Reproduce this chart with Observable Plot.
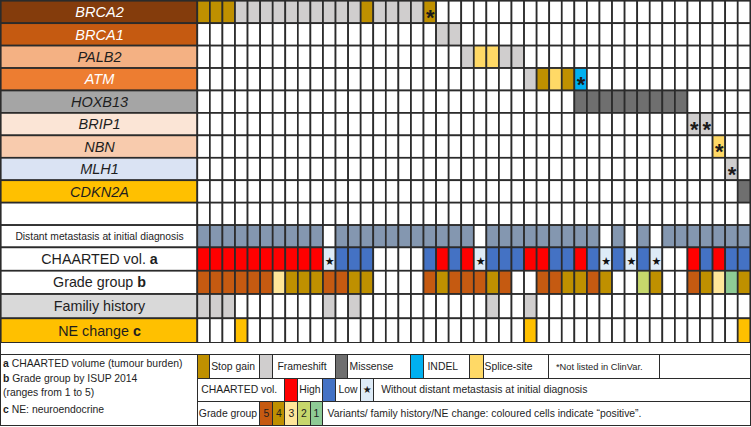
<!DOCTYPE html>
<html>
<head>
<meta charset="utf-8">
<script src="https://cdn.jsdelivr.net/npm/d3@7"></script>
<script src="https://cdn.jsdelivr.net/npm/@observablehq/plot@0.6"></script>
<style>
html, body { margin: 0; padding: 0; background: #fff; }
#wrap { position: relative; width: 751px; height: 427px; font-family: "Liberation Sans", Arial, sans-serif; color: #1e1e1e; overflow: hidden; }
#wrap svg { position: absolute; left: 0; top: 0; }
.box { position: absolute; box-sizing: border-box; border: 1.5px solid #2b2b2b; display: flex; align-items: center; font-size: 10.4px; white-space: nowrap; overflow: hidden; background: #fff; }
.line { position: absolute; left: 3px; font-size: 10.4px; line-height: 14px; white-space: nowrap; }
</style>
</head>
<body>
<div id="wrap"></div>
<script>
// ---------------- DATA ----------------
const N_PATIENTS = 44;
const PATIENTS = d3.range(1, N_PATIENTS + 1);

const GENES = ["BRCA2", "BRCA1", "PALB2", "ATM", "HOXB13", "BRIP1", "NBN", "MLH1", "CDKN2A"];
const CLINICAL = ["Distant metastasis at initial diagnosis", "CHAARTED vol. a", "Grade group b", "Familiy history", "NE change c"];

// Variant code per patient (groups of 10 separated by "|"):
// S stop gain, F frameshift, M missense, I INDEL, P splice-site; lower case = not listed in ClinVar; "." none
const BRCA2  = "SSSFFFFFFF|FFFSFFFFs.|..........|..........|....";
const BRCA1  = "..........|.........F|F.........|..........|....";
const PALB2  = "..........|..........|.FPPFF....|..........|....";
const ATM    = "..........|..........|......FSPS|i.........|....";
const HOXB13 = "..........|..........|..........|MMMMMMMMM.|....";
const BRIP1  = "..........|..........|..........|.........f|f...";
const NBN    = "..........|..........|..........|..........|.p..";
const MLH1   = "..........|..........|..........|..........|..f.";
const CDKN2A = "..........|..........|..........|..........|...M";

const DISTANT_MET = "1111111111|0111111111|1101111111|1101010111|1111";
const CHAARTED    = "HHHHHHHHHH|WLLL....LH|LHWLLLHHLL|HLWLWLW..H|LHLL"; // H high, L low, W without distant metastasis
const GRADE       = "5555553444|5544....54|55545..554|454..24..5|4314";
const FAMILY_HX   = "111.......|1.1.......|...1..1...|..........|....";
const NE_CHANGE   = "...1......|..........|......1...|..........|...1";

const VARIANT_TYPES = ["Stop gain", "Frameshift", "Missense", "INDEL", "Splice-site"];
const GRADE_LEVELS = ["5", "4", "3", "2", "1"];

// ---------------- STYLES ----------------
const LINE = "#2b2b2b";
const VARIANT_COLORS = { S: "#bf9000", F: "#d0cece", M: "#6f6f6f", I: "#00b0f0", P: "#ffd966" };
const CHAARTED_COLORS = { H: "#ff0000", L: "#4472c4", W: "#deebf7" };
const GRADE_COLORS = { "5": "#c55a11", "4": "#bf9000", "3": "#ffe699", "2": "#c6d76c", "1": "#8ecb95" };
const MET_COLOR = "#8497b0";
const FAMILY_COLOR = "#d0cece";
const NE_COLOR = "#ffc000";
const GENE_LABEL_FILL = ["#843c0c", "#c55a11", "#f4b183", "#ed7d31", "#a5a5a5", "#fbe5d6", "#f8cbad", "#dae3f3", "#ffc000"];
const GENE_LABEL_TEXT = ["#ffffff", "#ffffff", "#1e1e1e", "#ffffff", "#1e1e1e", "#1e1e1e", "#1e1e1e", "#1e1e1e", "#1e1e1e"];
const CLIN_LABEL_FILL = ["#ffffff", "#ffffff", "#ffffff", "#d9d9d9", "#ffc000"];
// relative row heights (layout)
const ROW_WEIGHTS = [1, 1, 1, 1, 1, 1, 1, 1, 1, 1, 0.993, 1.042, 1.038, 1.082, 1.1];

// ---------------- BUILD ----------------
const parse = s => s.replace(/\|/g, "").split("");
const geneCodes = [BRCA2, BRCA1, PALB2, ATM, HOXB13, BRIP1, NBN, MLH1, CDKN2A].map(parse);
const metCodes = parse(DISTANT_MET), chaCodes = parse(CHAARTED), gradeCodes = parse(GRADE);
const famCodes = parse(FAMILY_HX), neCodes = parse(NE_CHANGE);

const ROWS = [...GENES, "", ...CLINICAL];
const cum = [0];
ROW_WEIGHTS.forEach((w, i) => cum.push(cum[i] + w));
const rowInfo = ROWS.map((name, i) => {
  let fill = "#ffffff", text = "#1e1e1e";
  if (i < GENES.length) { fill = GENE_LABEL_FILL[i]; text = GENE_LABEL_TEXT[i]; }
  else if (i > GENES.length) { fill = CLIN_LABEL_FILL[i - GENES.length - 1]; }
  return { name, i, y1: cum[i], y2: cum[i + 1], ym: (cum[i] + cum[i + 1]) / 2, fill, text };
});

function cellFill(r, p) {
  const k = p - 1;
  if (r < GENES.length) {
    const c = geneCodes[r][k];
    return c === "." ? "#ffffff" : VARIANT_COLORS[c.toUpperCase()];
  }
  if (r === GENES.length) return "#ffffff";
  const cr = r - GENES.length - 1;
  if (cr === 0) return metCodes[k] === "1" ? MET_COLOR : "#ffffff";
  if (cr === 1) return CHAARTED_COLORS[chaCodes[k]] || "#ffffff";
  if (cr === 2) return GRADE_COLORS[gradeCodes[k]] || "#ffffff";
  if (cr === 3) return famCodes[k] === "1" ? FAMILY_COLOR : "#ffffff";
  return neCodes[k] === "1" ? NE_COLOR : "#ffffff";
}

const cells = [];
rowInfo.forEach(row => PATIENTS.forEach(p => cells.push({ p, y1: row.y1, y2: row.y2, ym: row.ym, fill: cellFill(row.i, p) })));

const asterisks = [];
geneCodes.forEach((codes, r) => codes.forEach((c, k) => {
  if (c !== "." && c === c.toLowerCase()) asterisks.push({ p: k + 1, ym: rowInfo[r].ym });
}));
const stars = [];
chaCodes.forEach((c, k) => { if (c === "W") stars.push({ p: k + 1, ym: rowInfo[GENES.length + 2].ym }); });

// layout of the plot area (px)
const X_LEFT = 0.75, X_GRID = 197.3, X_RIGHT = 750.3, Y_TOP = 0.75, Y_BOTTOM = 343;
const LABEL_UNITS = N_PATIENTS * (X_GRID - X_LEFT) / (X_RIGHT - X_GRID);

const FONT = "Liberation Sans, Arial, sans-serif";
const geneRows = rowInfo.slice(0, GENES.length);
const clinRows = rowInfo.slice(GENES.length + 1);

const chart = Plot.plot({
  width: 751,
  height: 344,
  margin: 0,
  x: { type: "linear", domain: [-LABEL_UNITS, N_PATIENTS], range: [X_LEFT, X_RIGHT], axis: null },
  y: { type: "linear", domain: [0, cum[cum.length - 1]], range: [Y_TOP, Y_BOTTOM], axis: null },
  color: { type: "identity" },
  style: { fontFamily: FONT, background: "#fff", overflow: "visible" },
  marks: [
    Plot.rect(rowInfo, { x1: -LABEL_UNITS, x2: 0, y1: "y1", y2: "y2", fill: "fill", stroke: LINE, strokeWidth: 1.7 }),
    Plot.rect(cells, { x1: d => d.p - 1, x2: d => d.p, y1: "y1", y2: "y2", fill: "fill", stroke: LINE, strokeWidth: 1.7 }),
    Plot.text(geneRows, { x: -LABEL_UNITS / 2, y: "ym", text: "name", fill: "text", fontSize: 14.5, fontStyle: "italic" }),
    Plot.text(clinRows.slice(0, 1), { x: -LABEL_UNITS / 2, y: "ym", text: "name", fill: "text", fontSize: 10.3 }),
    Plot.text(clinRows.slice(1), { x: -LABEL_UNITS / 2, y: "ym", text: "name", fill: "text", fontSize: 14.3 }),
    Plot.text(asterisks, { x: d => d.p - 0.5, y: "ym", text: () => "*", fontSize: 22, fontWeight: "bold", fill: "#1a1a1a", dy: 5 }),
    Plot.text(stars, { x: d => d.p - 0.5, y: "ym", text: () => "★", fontSize: 11, fill: "#111", dy: 2, fontFamily: "DejaVu Sans" })
  ]
});

// bold letters in clinical labels
const NS = "http://www.w3.org/2000/svg";
chart.querySelectorAll("text").forEach(t => {
  const m = t.textContent.match(/^(CHAARTED vol\.|Grade group|NE change) ([abc])$/);
  if (m) {
    t.textContent = m[1] + " ";
    const ts = document.createElementNS(NS, "tspan");
    ts.setAttribute("font-weight", "bold");
    ts.textContent = m[2];
    t.appendChild(ts);
  }
});

const wrap = document.getElementById("wrap");
wrap.appendChild(chart);

// ---------------- LEGEND (HTML below the plot) ----------------
function box(x0, y0, x1, y1, o = {}) {
  const d = document.createElement("div");
  d.className = "box";
  d.style.left = (x0 - 0.75) + "px";
  d.style.top = (y0 - 0.75) + "px";
  d.style.width = (x1 - x0 + 1.5) + "px";
  d.style.height = (y1 - y0 + 1.5) + "px";
  if (o.fill) d.style.background = o.fill;
  if (o.start != null) d.style.paddingLeft = Math.max(0, o.start - x0 - 0.75) + "px";
  if (o.center) d.style.justifyContent = "center";
  if (o.size) d.style.fontSize = o.size + "px";
  if (o.font) d.style.fontFamily = o.font;
  if (o.text != null) d.textContent = o.text;
  wrap.appendChild(d);
  return d;
}

const R0 = 355, R1 = 378.3, R2 = 401.7, R3 = 425;
// blank separator row
box(X_LEFT, Y_BOTTOM, X_RIGHT, R0);
// footnote box
box(X_LEFT, R0, X_GRID, R3);
const notes = [["a", " CHAARTED volume (tumour burden)", 364], ["b", " Grade group by ISUP 2014", 379.3], ["", "(ranges from 1 to 5)", 393.3], ["c", " NE: neuroendocrine", 410]];
notes.forEach(([b, t, yc]) => {
  const d = document.createElement("div");
  d.className = "line";
  d.style.top = (yc - 7) + "px";
  if (b) { const s = document.createElement("b"); s.textContent = b; d.appendChild(s); }
  d.appendChild(document.createTextNode(t));
  wrap.appendChild(d);
});

// row 1: variant types
const vKeys = ["S", "F", "M", "I", "P"];
const row1 = [[197.3, 209.6, 260.2, 211.7], [260.2, 272.7, 335.6, 278], [335.6, 348.2, 410.7, 350], [410.7, 423.3, 470, 428], [470, 483.3, 548.3, 485]];
row1.forEach(([s0, t0, t1, st], i) => {
  box(s0, R0, t0, R1, { fill: VARIANT_COLORS[vKeys[i]] });
  box(t0, R0, t1, R1, { text: VARIANT_TYPES[i], start: st });
});
box(548.3, R0, 660, R1, { text: "*Not listed in ClinVar.", start: 556.5, size: 9.3 });
box(660, R0, X_RIGHT, R1);

// row 2: CHAARTED
box(X_GRID, R1, 285, R2, { text: "CHAARTED vol.", start: 201.7 });
box(285, R1, 297.7, R2, { fill: CHAARTED_COLORS.H });
box(297.7, R1, 322.7, R2, { text: "High", start: 299.8 });
box(322.7, R1, 336, R2, { fill: CHAARTED_COLORS.L });
box(336, R1, 361, R2, { text: "Low", start: 339 });
box(361, R1, 373.3, R2, { fill: CHAARTED_COLORS.W, text: "★", center: true, size: 10, font: "DejaVu Sans" });
box(373.3, R1, X_RIGHT, R2, { text: "Without distant metastasis at initial diagnosis", start: 381.7 });

// row 3: grade group
box(X_GRID, R2, 260.2, R3, { text: "Grade group", start: 199.3 });
const gx = [260.2, 272.7, 285.2, 297.7, 310.3, 322.7];
GRADE_LEVELS.forEach((g, i) => box(gx[i], R2, gx[i + 1], R3, { fill: GRADE_COLORS[g], text: g, center: true }));
box(322.7, R2, X_RIGHT, R3, { text: "Variants/ family history/NE change: coloured cells indicate \u201cpositive\u201d.", start: 328 });
</script>
</body>
</html>
